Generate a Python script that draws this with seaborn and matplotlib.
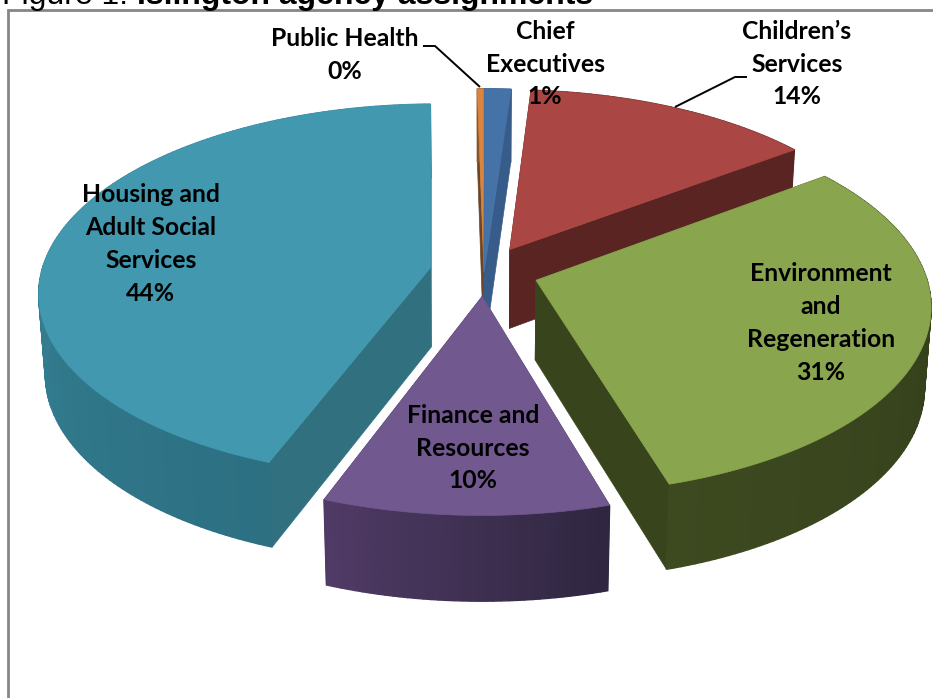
import numpy as np
import matplotlib
matplotlib.use("Agg")
import matplotlib.pyplot as plt
from matplotlib.patches import Polygon
import seaborn as sns

# Share of assignments per department, clockwise from twelve o'clock
departments = ["Public Health", "Chief\nExecutives", "Children\u2019s\nServices",
               "Environment\nand\nRegeneration", "Finance and\nResources",
               "Housing and\nAdult Social\nServices"]
shares = [0.3, 1.1, 13.7, 30.6, 10.3, 44.0]

top_colors = ["#DB843D", "#4572A7", "#AA4643", "#89A54E", "#71588F", "#4198AF"]
side_colors = ["#6B4526", "#375C8A", "#5A2422", "#38451C", "#4A3860", "#30707F"]
rim_start = ["#8A5426", "#375C8A", "#5A2422", "#2F3A18", "#2F2640", "#2C7082"]
rim_end = ["#8A5426", "#375C8A", "#5A2422", "#3D4A20", "#503B66", "#3F8FA5"]

# Projection of the pie disc and how each slice sits on it
CENTER = (484.0, 272.0)
RADIUS_X, RADIUS_Y = 389.0, 185.0
PERSPECTIVE = 0.125
WALL = 79.5
WALL_TAPER = 0.985
START_ANGLE = -1.0
explode = [0.0, 0.0, 0.14, 0.14, 0.13, 0.14]
reach = [1.13, 1.13, 1.0, 1.0, 1.0, 1.0]
draw_order = [0, 1, 2, 5, 3, 4]

label_centers = [(345, 55), (545, 64), (797, 64), (821, 323), (473, 448), (151, 244)]


def project(x, y, drop=False):
    w = 1.0 - PERSPECTIVE * y
    dx = RADIUS_X * x / w
    sy = CENTER[1] + RADIUS_Y * y / w
    if drop:
        dx = dx * WALL_TAPER
        sy = sy + WALL * (1.0 + 0.07 * y)
    return np.column_stack([CENTER[0] + dx, sy])


sns.set_theme(style="white")
fig = plt.figure(figsize=(9.33, 6.98), dpi=100)
ax = fig.add_axes([0, 0, 1, 1])
ax.set_xlim(0, 933)
ax.set_ylim(698, 0)
ax.axis("off")


def quad(pts, color, z, lw=0.5):
    ax.add_patch(Polygon(pts, closed=True, facecolor=color, edgecolor=color,
                         linewidth=lw, zorder=z))


edges = START_ANGLE + 360.0 * np.concatenate([[0], np.cumsum(shares)]) / np.sum(shares)

for rank, i in enumerate(draw_order):
    a0, a1 = np.radians(edges[i]), np.radians(edges[i + 1])
    mid = 0.5 * (a0 + a1)
    ox, oy = explode[i] * np.sin(mid), -explode[i] * np.cos(mid)
    theta = np.linspace(a0, a1, max(int(np.degrees(a1 - a0)), 2) + 1)
    rx = ox + reach[i] * np.sin(theta)
    ry = oy - reach[i] * np.cos(theta)
    apex_x, apex_y = np.array([ox]), np.array([oy])

    z = 2 + rank * 4
    # Cut faces running from the apex to either end of the arc
    for k in (0, -1):
        ex = np.array([ox, rx[k]])
        ey = np.array([oy, ry[k]])
        quad(np.vstack([project(ex, ey), project(ex, ey, True)[::-1]]), side_colors[i], z + k + 1)
    # Outer wall, shaded along the arc
    shades = sns.blend_palette([rim_start[i], rim_end[i]], len(theta))
    for k in range(len(theta) - 1):
        seg_x, seg_y = rx[k:k + 2], ry[k:k + 2]
        quad(np.vstack([project(seg_x, seg_y), project(seg_x, seg_y, True)[::-1]]), shades[k], z + 1, lw=1.0)
    # Top face
    quad(project(np.concatenate([apex_x, rx]), np.concatenate([apex_y, ry])), top_colors[i], z + 2)

# Slice labels
for name, share, (lx, ly) in zip(departments, shares, label_centers):
    ax.text(lx, ly, f"{name}\n{share:.0f}%", ha="center", va="center", color="black",
            family="Lato", weight="bold", fontsize=17.8, linespacing=1.52, zorder=60)

# Leader lines
ax.plot([423, 435, 480], [46, 46, 87], color="black", lw=1.4, zorder=50, solid_capstyle="butt")
ax.plot([747, 735, 675], [77, 77, 107], color="black", lw=1.4, zorder=50, solid_capstyle="butt")

# Chart frame
ax.plot([8, 8, 933], [698, 10, 10], color="#868686", lw=2, zorder=1, solid_joinstyle="miter")

# Caption above the frame
ax.text(2, 4, "Figure 1:", family="Liberation Sans", fontsize=23, color="black", va="baseline", ha="left")
ax.text(137, 4, "Islington agency assignments", family="Liberation Sans", weight="bold",
        fontsize=23, color="black", va="baseline", ha="left")

fig.savefig("out.png", dpi=100, facecolor="white")
